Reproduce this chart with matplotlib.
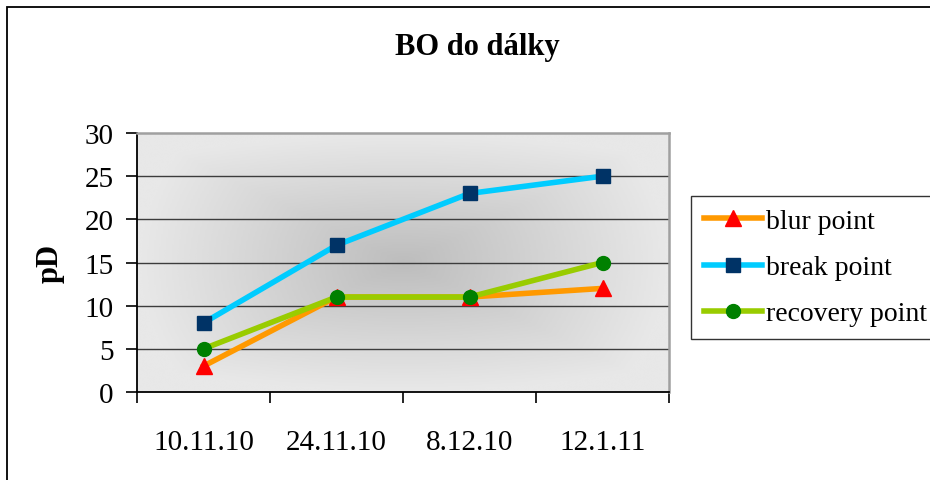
import matplotlib
matplotlib.use("Agg")
import matplotlib.pyplot as plt
from matplotlib.patches import Rectangle
import numpy as np

plt.rcParams['font.family'] = ['Liberation Serif', 'DejaVu Serif']

dates = ['10.11.10', '24.11.10', '8.12.10', '12.1.11']
blur = [3, 11, 11, 12]
brk = [8, 17, 23, 25]
recovery = [5, 11, 11, 15]

fig = plt.figure(figsize=(9.3, 4.81), dpi=100)
W, H = 930, 481

# outer chart frame (runs past right and bottom edges)
fig.patches.append(Rectangle((7 / W, -0.1), 1.2, 1.1 - 8 / H, transform=fig.transFigure,
                             fill=False, edgecolor='black', lw=1.3))

ax = fig.add_axes([137 / W, 88 / H, 532 / W, 259 / H])
x = np.arange(len(dates))

# background gradient, darker toward the centre
gx = np.linspace(-1, 1, 300)
gy = np.linspace(-1, 1, 200)
GX, GY = np.meshgrid(gx, gy)
r = np.clip(np.maximum(np.abs(GX), np.abs(GY)) * 0.6 + np.sqrt(GX**2 + GY**2) * 0.4, 0, 1)
shade = 0.74 + (0.91 - 0.74) * r
ax.imshow(shade, cmap='gray', vmin=0, vmax=1, extent=[-0.5, 3.5, 0, 30],
          aspect='auto', zorder=0, interpolation='bicubic')

for yv in [5, 10, 15, 20, 25]:
    ax.axhline(yv, color='#3c3c3c', lw=1.0, zorder=1)

ax.plot(x, blur, color='#FF9900', lw=4, marker='^', markersize=11,
        markerfacecolor='#FF0000', markeredgecolor='#FF0000', label='blur point', zorder=3)
ax.plot(x, brk, color='#00CCFF', lw=4, marker='s', markersize=10,
        markerfacecolor='#003366', markeredgecolor='#003366', label='break point', zorder=4)
ax.plot(x, recovery, color='#99CC00', lw=4, marker='o', markersize=10,
        markerfacecolor='#008000', markeredgecolor='#008000', label='recovery point', zorder=5)

ax.set_xlim(-0.5, 3.5)
ax.set_ylim(0, 30)
ax.set_yticks(range(0, 31, 5))
ax.set_xticks(np.arange(-0.5, 4, 1))
ax.set_xticklabels([])
ax.set_xticks(x, minor=True)
ax.set_xticklabels(dates, minor=True)
ax.tick_params(axis='x', which='major', direction='out', length=8, width=1.2)
ax.tick_params(axis='x', which='minor', length=0, pad=27, labelsize=21)
ax.tick_params(axis='y', direction='out', length=8, width=1.2, pad=9, labelsize=21)

for side in ['top', 'right']:
    ax.spines[side].set_color('#a0a0a0')
    ax.spines[side].set_linewidth(1.8)
for side in ['left', 'bottom']:
    ax.spines[side].set_color('black')
    ax.spines[side].set_linewidth(1.3)

ax.set_ylabel('pD', fontsize=22, fontweight='bold', labelpad=14)
fig.text(477 / W, 1 - 48 / H, 'BO do dálky', ha='center', va='center',
         fontsize=22, fontweight='bold')

leg = ax.legend(loc='upper left', bbox_to_anchor=(691 / W, 1 - 197 / H),
                bbox_transform=fig.transFigure, fontsize=20, frameon=True,
                fancybox=False, borderaxespad=0, handlelength=2.1,
                handletextpad=0.15, labelspacing=0.75, borderpad=0.45)
leg.get_frame().set_edgecolor('black')
leg.get_frame().set_linewidth(1.0)

fig.savefig('out.png', dpi=100)
